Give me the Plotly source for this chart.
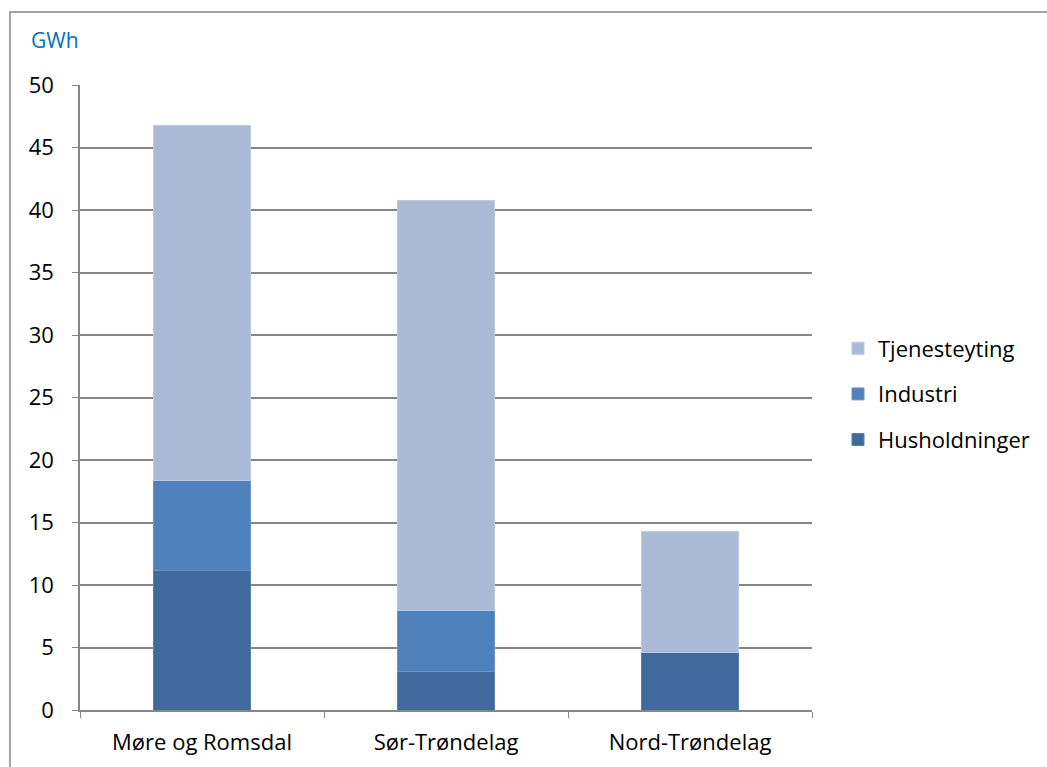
import plotly.graph_objects as go

regions = ["Møre og Romsdal", "Sør-Trøndelag", "Nord-Trøndelag"]
husholdninger = [11.2, 3.1, 4.6]
industri = [7.2, 4.9, 0.0]
tjenesteyting = [28.4, 32.8, 9.7]

colors = {
    "Husholdninger": "#3F6A9B",
    "Industri": "#4F81BD",
    "Tjenesteyting": "#AABAD7",
}
edges = {
    "Husholdninger": "#5A80AC",
    "Industri": "#6A94C8",
    "Tjenesteyting": "#BCC9E1",
}
ranks = {"Tjenesteyting": 1, "Industri": 2, "Husholdninger": 3}

W, H = 1047, 767
L, R, T, B = 80, 235, 85, 57
pw, ph = W - L - R, H - T - B

fig = go.Figure()
for name, vals in [("Husholdninger", husholdninger), ("Industri", industri), ("Tjenesteyting", tjenesteyting)]:
    fig.add_trace(go.Bar(
        x=regions, y=vals, name=name, legendgroup=name, legendrank=ranks[name],
        marker=dict(color=colors[name], line=dict(color=edges[name], width=1)),
    ))

font = "Open Sans"

fig.update_layout(
    width=W, height=H,
    margin=dict(l=L, r=R, t=T, b=B, autoexpand=False),
    barmode="stack", bargap=0.6,
    plot_bgcolor="white", paper_bgcolor="white",
    font=dict(family=font, size=22, color="black"),
    showlegend=True,
    legend=dict(
        xref="container", yref="container",
        x=838 / W, y=1 - 394 / H, xanchor="left", yanchor="middle",
        traceorder="grouped", tracegroupgap=14,
        font=dict(size=22), itemwidth=30,
    ),
    xaxis=dict(
        type="category", tickson="boundaries", ticks="outside", ticklen=6,
        tickcolor="#868686", showline=True, linecolor="#868686", linewidth=1.5,
        showgrid=False, ticklabelstandoff=12,
    ),
    yaxis=dict(
        range=[0, 50], dtick=5, ticks="outside", ticklen=6, tickcolor="#868686",
        showline=True, linecolor="#868686", linewidth=1.5,
        showgrid=True, gridcolor="#868686", gridwidth=1.5, zeroline=False,
        ticklabelstandoff=14,
    ),
    annotations=[dict(
        text="GWh", xref="paper", yref="paper",
        x=(29 - L) / pw, y=(H - B - 40) / ph, xanchor="left", yanchor="middle",
        showarrow=False, font=dict(size=21, color="#0070C0"),
    )],
    shapes=[dict(
        type="rect", xref="paper", yref="paper",
        x0=(10 - L) / pw, x1=(1060 - L) / pw,
        y0=(H - B - 780) / ph, y1=(H - B - 12) / ph,
        line=dict(color="#868686", width=1.5), layer="below",
    )],
)

fig.write_html("out.html")
